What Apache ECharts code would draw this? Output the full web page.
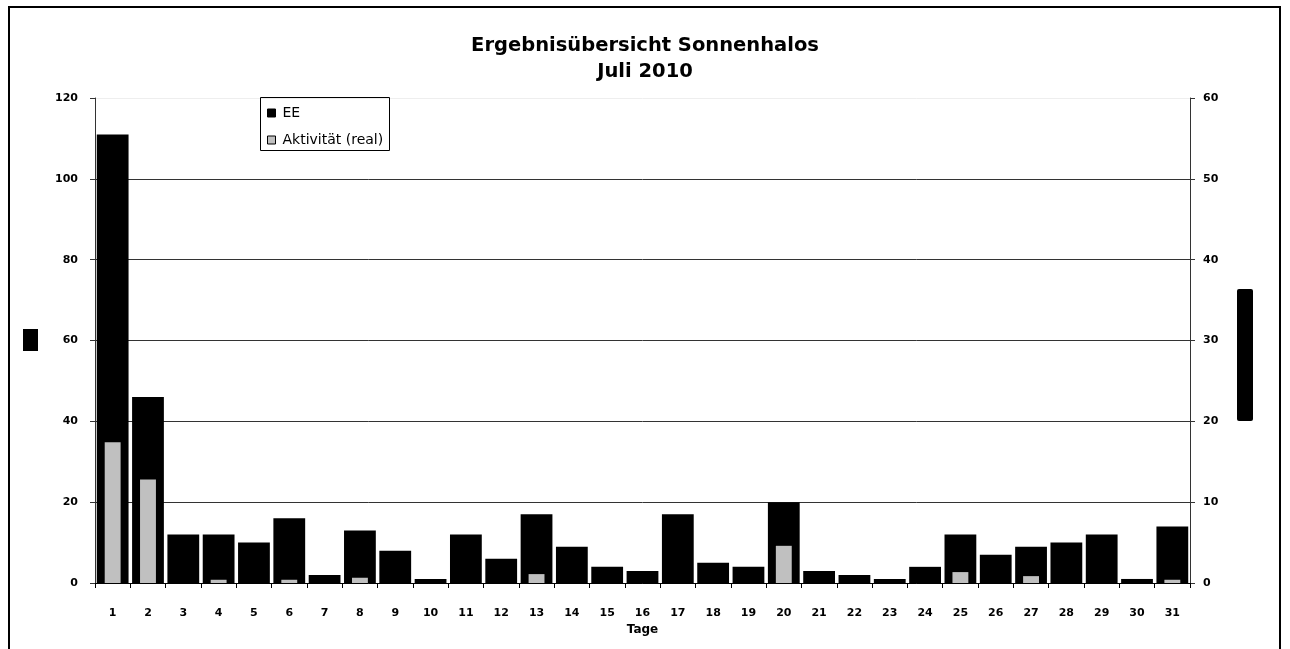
<!DOCTYPE html>
<html><head><meta charset="utf-8">
<script src="https://cdn.jsdelivr.net/npm/echarts@6/dist/echarts.min.js"></script>
<style>html,body{margin:0;padding:0;background:#fff}#c{width:1290px;height:649px}</style>
</head><body><div id="c"></div>
<script>
const tage = ['1','2','3','4','5','6','7','8','9','10','11','12','13','14','15','16','17','18','19','20','21','22','23','24','25','26','27','28','29','30','31'];
const ee = [111,46,12,12,10,16,2,13,8,1,12,6,17,9,4,3,17,5,4,20,3,2,1,4,12,7,9,10,12,1,14];
const aktivitaet = [17.4,12.8,0,0.4,0,0.4,0,0.65,0,0,0,0,1.1,0,0,0,0,0,0,4.6,0,0,0,0,1.35,0,0.85,0,0,0,0.4];
const titleText = 'Ergebnisübersicht Sonnenhalos\nJuli 2010';

const chart = echarts.init(document.getElementById('c'), null, {renderer:'canvas'});
const FF = '"DejaVu Sans", Verdana, sans-serif';
const lbl = {fontFamily:FF,fontSize:11,fontWeight:'bold',color:'#000'};
chart.setOption({
  animation:false,
  backgroundColor:'#fff',
  title:{text:titleText,left:'center',top:28,textStyle:{fontFamily:FF,fontSize:19.5,fontWeight:'bold',color:'#000',lineHeight:26}},
  legend:{
    orient:'vertical',left:260,top:97,
    padding:[9,3,4,7],itemGap:13,itemWidth:8,itemHeight:8,
    icon:'rect',
    itemStyle:{borderColor:'#000',borderWidth:1},
    textStyle:{fontFamily:FF,fontSize:14,color:'#000',padding:[0,0,0,2]},
    data:['EE','Aktivität (real)']
  },
  grid:{left:95,right:100,top:98,bottom:66},
  xAxis:[
    {type:'category',data:tage,name:'Tage',nameLocation:'middle',nameGap:40,
     nameTextStyle:Object.assign({},lbl,{fontSize:12}),
     axisLine:{lineStyle:{color:'#000',width:1}},
     axisTick:{show:true,length:5,lineStyle:{color:'#000'}},
     axisLabel:Object.assign({margin:25},lbl)},
    {type:'category',data:tage,show:false}
  ],
  yAxis:[
    {type:'value',min:0,max:120,interval:20,position:'left',
     axisLine:{show:true,lineStyle:{color:'#333'}},
     axisTick:{show:true,length:5,lineStyle:{color:'#333'}},
     axisLabel:Object.assign({margin:17},lbl),
     splitLine:{show:true,lineStyle:{color:['#333','#333','#333','#333','#333','#333','#eee'],width:1}}},
    {type:'value',min:0,max:60,interval:10,position:'right',
     axisLine:{show:true,lineStyle:{color:'#333'}},
     axisTick:{show:true,length:5,lineStyle:{color:'#333'}},
     axisLabel:Object.assign({margin:13},lbl),
     splitLine:{show:false}}
  ],
  series:[
    {name:'EE',type:'bar',data:ee,xAxisIndex:0,yAxisIndex:0,barCategoryGap:'10%',
     itemStyle:{color:'#000'},z:2},
    {name:'Aktivität (real)',type:'bar',data:aktivitaet,xAxisIndex:1,yAxisIndex:1,barCategoryGap:'55%',
     itemStyle:{color:'#C0C0C0'},z:3}
  ],
  graphic:[
    {type:'rect',shape:{x:9,y:7,width:1271,height:660},style:{fill:'none',stroke:'#000',lineWidth:2},silent:true},
    {type:'rect',shape:{x:260.5,y:97.5,width:129,height:53},style:{fill:'none',stroke:'#000',lineWidth:1},silent:true,z:10},
    {type:'rect',shape:{x:23,y:329,width:15,height:22},style:{fill:'#000'},silent:true},
    {type:'rect',shape:{x:1237,y:289,width:16,height:132,r:2},style:{fill:'#000'},silent:true}
  ]
});
</script></body></html>
